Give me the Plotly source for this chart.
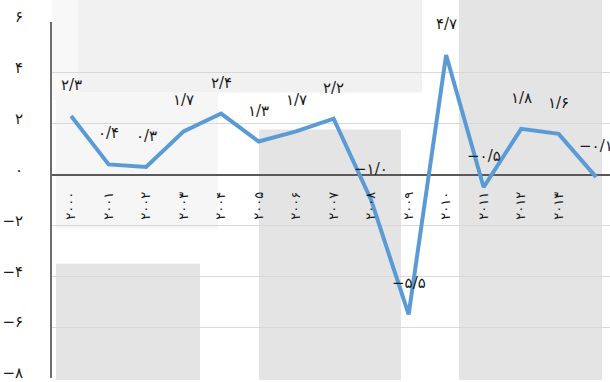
import plotly.graph_objects as go

years = list(range(2000, 2015))
growth = [2.3, 0.4, 0.3, 1.7, 2.4, 1.3, 1.7, 2.2, -1.0, -5.5, 4.7, -0.5, 1.8, 1.6, -0.1]
value_labels = ["۲/۳", "۰/۴", "۰/۳", "۱/۷", "۲/۴", "۱/۳", "۱/۷", "۲/۲", "−۱/۰", "−۵/۵",
                "۴/۷", "−۰/۵", "۱/۸", "۱/۶", "−۰/۱"]
tick_years = list(range(2000, 2014))
tick_labels = ["۲۰۰۰", "۲۰۰۱", "۲۰۰۲", "۲۰۰۳", "۲۰۰۴", "۲۰۰۵", "۲۰۰۶", "۲۰۰۷",
               "۲۰۰۸", "۲۰۰۹", "۲۰۱۰", "۲۰۱۱", "۲۰۱۲", "۲۰۱۳"]
y_ticks = [-8, -6, -4, -2, 0, 2, 4, 6]
y_tick_labels = ["−۸", "−۶", "−۴", "−۲", "۰", "۲", "۴", "۶"]

W, H = 610, 382
ML, MR, MT, MB = 52, 0, 22, 2
PW, PH = W - ML - MR, H - MT - MB
FONT = "DejaVu Sans"


def rect(x0, y0, x1, y1, color):
    return dict(type="rect", xref="paper", yref="paper", layer="below",
                x0=(x0 - ML) / PW, x1=(x1 - ML) / PW,
                y0=(H - MB - y1) / PH, y1=(H - MB - y0) / PH,
                line=dict(width=0), fillcolor=color)


shapes = [
    rect(52, 0, 80, 100, "#f8f8f8"),
    rect(78, 0, 422, 93, "#f1f1f1"),
    rect(56, 93, 218, 230, "#f6f6f6"),
    rect(56, 265, 200, 382, "#e4e4e4"),
    rect(259, 130, 401, 382, "#e4e4e4"),
    rect(459, 0, 602, 382, "#e4e4e4"),
]

fig = go.Figure()
fig.add_trace(go.Scatter(
    x=years, y=growth, mode="lines",
    line=dict(color="#5b9bd5", width=4),
    hoverinfo="skip", showlegend=False,
))

annotations = [
    dict(x=x, y=y, text=t, showarrow=False, xref="x", yref="y",
         yshift=31, xanchor="center", yanchor="middle",
         font=dict(family=FONT, size=15, color="#1a1a1a"))
    for x, y, t in zip(years, growth, value_labels)
]

fig.update_layout(
    width=W, height=H,
    margin=dict(l=ML, r=MR, t=MT, b=MB, pad=0),
    paper_bgcolor="white", plot_bgcolor="white",
    shapes=shapes, annotations=annotations,
    xaxis=dict(
        range=[1999.49, 2014.37],
        tickvals=tick_years, ticktext=tick_labels,
        tickangle=-90,
        anchor="free", position=8 / 14,
        showgrid=False, zeroline=False, showline=False,
        ticks="outside", ticklen=0, ticklabelstandoff=11,
        tickfont=dict(family=FONT, size=13, color="#1a1a1a"),
        fixedrange=True,
    ),
    yaxis=dict(
        range=[-8, 6],
        tickvals=y_ticks, ticktext=y_tick_labels,
        showgrid=True, gridcolor="#d9d9d9", gridwidth=1,
        zeroline=True, zerolinecolor="#595959", zerolinewidth=1.5,
        showline=True, linecolor="#6e6e6e", linewidth=2,
        ticks="", ticklabelstandoff=24, ticklabelshift=-5,
        ticklabeloverflow="allow",
        tickfont=dict(family=FONT, size=15, color="#1a1a1a"),
        fixedrange=True,
    ),
)

fig.write_html(
    "out.html",
    config={"displayModeBar": False},
    post_script="document.body.style.margin='0';document.body.style.overflow='hidden';",
)
